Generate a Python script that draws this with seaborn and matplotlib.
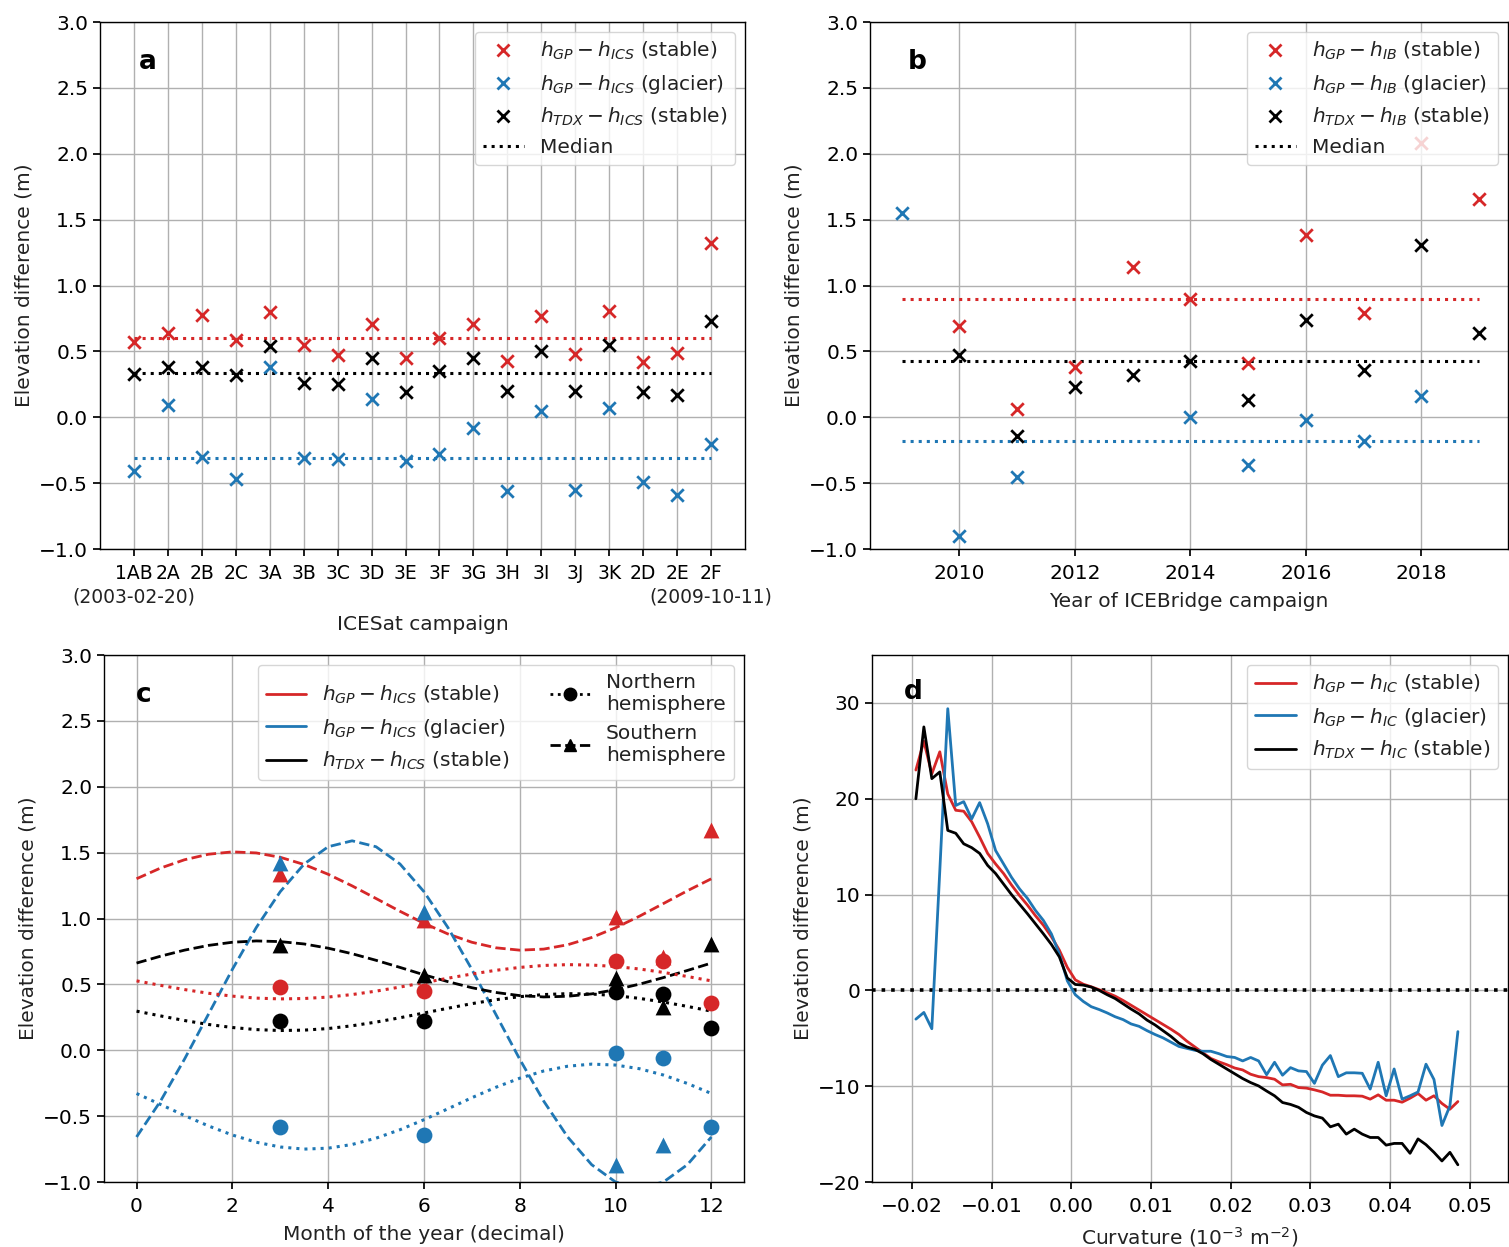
import numpy as np
import seaborn as sns
import matplotlib.pyplot as plt
from matplotlib.lines import Line2D

RED = "#d62728"
BLUE = "#1f77b4"
BLACK = "black"

# ---------- a: ICESat campaigns ----------
campaigns = ["1AB", "2A", "2B", "2C", "3A", "3B", "3C", "3D", "3E", "3F",
             "3G", "3H", "3I", "3J", "3K", "2D", "2E", "2F"]
campaign_dates = ["(2003-02-20)", "(2009-10-11)"]   # first and last campaign
a_gp_stable = [0.57, 0.64, 0.78, 0.59, 0.80, 0.55, 0.47, 0.71, 0.45, 0.60,
               0.71, 0.43, 0.77, 0.48, 0.81, 0.42, 0.49, 1.32]
a_gp_glacier = [-0.41, 0.09, -0.30, -0.47, 0.38, -0.31, -0.32, 0.14, -0.33, -0.28,
                -0.08, -0.56, 0.05, -0.55, 0.07, -0.49, -0.59, -0.20]
a_tdx_stable = [0.33, 0.38, 0.38, 0.32, 0.54, 0.26, 0.25, 0.45, 0.19, 0.35,
                0.45, 0.20, 0.50, 0.20, 0.55, 0.19, 0.17, 0.73]
a_medians = [0.60, -0.31, 0.34]

# ---------- b: ICEBridge years ----------
years = [2009, 2010, 2011, 2012, 2013, 2014, 2015, 2016, 2017, 2018, 2019]
b_gp_stable = [np.nan, 0.69, 0.06, 0.38, 1.14, 0.90, 0.41, 1.38, 0.79, 2.08, 1.66]
b_gp_glacier = [1.55, -0.90, -0.45, np.nan, np.nan, 0.00, -0.36, -0.02, -0.18, 0.16, np.nan]
b_tdx_stable = [np.nan, 0.47, -0.14, 0.23, 0.32, 0.43, 0.13, 0.74, 0.36, 1.31, 0.64]
b_medians = [0.90, -0.18, 0.43]

# ---------- c: month of year ----------
months_curve = np.arange(0, 12.5, 0.5)
c_north_gp_stable = [0.527, 0.493, 0.461, 0.433, 0.411, 0.396, 0.390, 0.393, 0.404,
                     0.423, 0.449, 0.480, 0.513, 0.547, 0.579, 0.607, 0.629, 0.644,
                     0.650, 0.647, 0.636, 0.617, 0.591, 0.560, 0.527]
c_north_gp_glacier = [-0.328, -0.411, -0.495, -0.574, -0.643, -0.698, -0.734, -0.750,
                      -0.743, -0.715, -0.667, -0.603, -0.527, -0.444, -0.360, -0.281,
                      -0.212, -0.157, -0.121, -0.105, -0.112, -0.140, -0.188, -0.252, -0.328]
c_north_tdx_stable = [0.297, 0.261, 0.226, 0.196, 0.173, 0.157, 0.150, 0.153, 0.165,
                      0.186, 0.214, 0.247, 0.283, 0.319, 0.354, 0.384, 0.407, 0.423,
                      0.430, 0.427, 0.415, 0.394, 0.366, 0.333, 0.297]
c_south_gp_stable = [1.302, 1.383, 1.446, 1.488, 1.506, 1.498, 1.465, 1.410, 1.336,
                     1.248, 1.152, 1.055, 0.964, 0.883, 0.820, 0.778, 0.760, 0.768,
                     0.801, 0.856, 0.930, 1.018, 1.114, 1.211, 1.302]
c_south_gp_glacier = [-0.658, -0.386, -0.068, 0.273, 0.614, 0.932, 1.204, 1.414, 1.545,
                      1.590, 1.545, 1.414, 1.204, 0.932, 0.614, 0.273, -0.068, -0.386,
                      -0.658, -0.868, -1.000, -1.044, -1.000, -0.868, -0.658]
c_south_tdx_stable = [0.662, 0.714, 0.760, 0.796, 0.820, 0.830, 0.825, 0.807, 0.775,
                      0.733, 0.683, 0.629, 0.573, 0.521, 0.475, 0.439, 0.415, 0.405,
                      0.410, 0.428, 0.460, 0.502, 0.552, 0.606, 0.662]

months_pts = [3, 6, 10, 11, 12]
n_gp_stable = [0.48, 0.45, 0.68, 0.68, 0.36]
n_gp_glacier = [-0.58, -0.64, -0.02, -0.06, -0.58]
n_tdx_stable = [0.22, 0.22, 0.44, 0.43, 0.17]
s_gp_stable = [1.34, 0.99, 1.01, 0.71, 1.67]
s_gp_glacier = [1.42, 1.05, -0.87, -0.72, np.nan]
s_tdx_stable = [0.80, 0.57, 0.55, 0.33, 0.81]

# ---------- d: curvature ----------
curvature = np.round(np.arange(-19.5, 49.0, 1.0) * 1e-3, 4)
d_gp_stable = [23.0, 26.0, 22.6, 24.9, 20.5, 18.8, 18.7, 17.6, 16.0, 14.3, 13.2, 12.2,
               11.0, 9.9, 8.9, 7.8, 6.8, 5.6, 4.2, 2.4, 1.1, 0.65, 0.38, 0.07, -0.25,
               -0.6, -1.05, -1.55, -2.05, -2.55, -3.05, -3.55, -4.05, -4.6, -5.3, -5.9,
               -6.5, -7.1, -7.45, -7.75, -8.1, -8.3, -8.75, -9.0, -9.1, -9.27, -9.86,
               -9.8, -10.14, -10.2, -10.38, -10.6, -10.94, -10.94, -11.0, -11.0, -11.04,
               -11.35, -10.9, -11.46, -11.46, -11.67, -11.25, -10.76, -11.46, -11.0,
               -11.8, -12.4, -11.6]
d_gp_glacier = [-3.0, -2.3, -4.0, 12.5, 29.4, 19.3, 19.7, 17.9, 19.6, 17.4, 14.6, 13.2,
                11.8, 10.6, 9.6, 8.35, 7.3, 5.9, 3.8, 1.0, -0.45, -1.15, -1.7, -2.0,
                -2.35, -2.75, -3.05, -3.5, -3.75, -4.2, -4.6, -4.95, -5.4, -5.85, -6.05,
                -6.25, -6.35, -6.35, -6.6, -6.9, -7.0, -7.36, -7.0, -7.36, -8.8, -7.5,
                -8.85, -8.06, -8.4, -8.47, -9.7, -7.8, -6.8, -9.0, -8.6, -8.6, -8.65,
                -10.3, -7.5, -11.0, -8.2, -11.35, -11.0, -10.6, -7.7, -9.3, -14.1,
                -12.05, -4.3]
d_tdx_stable = [20.0, 27.5, 22.1, 22.8, 16.7, 16.4, 15.3, 14.9, 14.3, 13.05, 12.2, 11.1,
                10.0, 9.0, 8.0, 6.95, 5.9, 4.8, 3.5, 1.3, 0.62, 0.55, 0.35, 0.0, -0.45,
                -0.85, -1.4, -1.95, -2.45, -3.1, -3.6, -4.2, -4.8, -5.5, -5.9, -6.15,
                -6.6, -7.2, -7.7, -8.2, -8.7, -9.2, -9.62, -9.97, -10.5, -11.0, -11.7,
                -11.9, -12.2, -12.74, -13.1, -13.33, -14.24, -13.96, -15.0, -14.48,
                -15.0, -15.35, -15.35, -16.15, -15.97, -15.97, -17.0, -15.5, -16.1,
                -16.9, -17.8, -16.9, -18.2]

# ---------- style ----------
sns.set_theme(style="ticks", rc={
    "axes.grid": True, "grid.color": "#b0b0b0", "grid.linewidth": 1.0,
    "axes.edgecolor": "black", "axes.linewidth": 1.0,
    "xtick.color": "black", "ytick.color": "black",
    "xtick.major.size": 5, "ytick.major.size": 5,
    "xtick.major.pad": 5.5,
})
plt.rcParams["font.family"] = ["DejaVu Sans"]
plt.rcParams["font.size"] = 14.5
plt.rcParams["axes.labelsize"] = 14.5
plt.rcParams["xtick.labelsize"] = 14.5
plt.rcParams["ytick.labelsize"] = 14.5
plt.rcParams["legend.fontsize"] = 14.5
plt.rcParams["text.color"] = "#222222"
plt.rcParams["axes.labelcolor"] = "#222222"

fig = plt.figure(figsize=(15.09, 12.47), dpi=100)
ax_a = fig.add_axes([0.0663, 0.5597, 0.4274, 0.4226])
ax_b = fig.add_axes([0.5765, 0.5597, 0.4228, 0.4226])
ax_c = fig.add_axes([0.0689, 0.0521, 0.4241, 0.4226])
ax_d = fig.add_axes([0.5779, 0.0521, 0.4215, 0.4226])

MS = 9
XPAD = 7


def x_handle(color):
    return Line2D([], [], marker="x", color=color, ls="none", ms=MS, mew=2)


def panel_label(ax, s, x=0.06, y=0.925):
    ax.text(x, y, s, transform=ax.transAxes, fontsize=19, fontweight="bold",
            ha="left", va="center", color="black")


# ---------- panel a ----------
pos = np.arange(len(campaigns))
for vals, col in [(a_gp_stable, RED), (a_gp_glacier, BLUE), (a_tdx_stable, BLACK)]:
    sns.scatterplot(x=pos, y=vals, ax=ax_a, marker="x", color=col, s=MS ** 2,
                    linewidth=2, zorder=3)
for med, col in zip(a_medians, [RED, BLUE, BLACK]):
    ax_a.plot([pos[0], pos[-1]], [med, med], ls=":", color=col, lw=2.2, zorder=2)
ax_a.set_xticks(pos)
ax_a.set_xticklabels(campaigns, fontsize=13.5)
for xp, date in zip([pos[0], pos[-1]], campaign_dates):
    ax_a.annotate(date, xy=(xp, 0), xycoords=("data", "axes fraction"),
                  xytext=(0, -34.5), textcoords="offset points",
                  ha="center", va="center", fontsize=13.5, color="#222222",
                  annotation_clip=False)
ax_a.set_xlim(-1, len(campaigns))
ax_a.set_ylim(-1, 3)
ax_a.set_yticks(np.arange(-1, 3.01, 0.5))
ax_a.set_xlabel("ICESat campaign")
ax_a.xaxis.set_label_coords(0.5, -0.125)
ax_a.set_ylabel("Elevation difference (m)")
ax_a.legend([x_handle(RED), x_handle(BLUE), x_handle(BLACK),
             Line2D([], [], ls=":", color=BLACK, lw=2.2)],
            [r"$h_{GP} - h_{ICS}$ (stable)", r"$h_{GP} - h_{ICS}$ (glacier)",
             r"$h_{TDX} - h_{ICS}$ (stable)", "Median"],
            loc="upper right", numpoints=1)
panel_label(ax_a, "a")

# ---------- panel b ----------
for vals, col in [(b_gp_stable, RED), (b_gp_glacier, BLUE), (b_tdx_stable, BLACK)]:
    sns.scatterplot(x=years, y=vals, ax=ax_b, marker="x", color=col, s=MS ** 2,
                    linewidth=2, zorder=3)
for med, col in zip(b_medians, [RED, BLUE, BLACK]):
    ax_b.plot([years[0], years[-1]], [med, med], ls=":", color=col, lw=2.2, zorder=2)
ax_b.set_xlim(2008.45, 2019.5)
ax_b.set_xticks([2010, 2012, 2014, 2016, 2018])
ax_b.set_ylim(-1, 3)
ax_b.set_yticks(np.arange(-1, 3.01, 0.5))
ax_b.set_xlabel("Year of ICEBridge campaign", labelpad=XPAD)
ax_b.set_ylabel("Elevation difference (m)")
ax_b.legend([x_handle(RED), x_handle(BLUE), x_handle(BLACK),
             Line2D([], [], ls=":", color=BLACK, lw=2.2)],
            [r"$h_{GP} - h_{IB}$ (stable)", r"$h_{GP} - h_{IB}$ (glacier)",
             r"$h_{TDX} - h_{IB}$ (stable)", "Median"],
            loc="upper right", numpoints=1)
panel_label(ax_b, "b")

# ---------- panel c ----------
for vals, col in [(c_south_gp_stable, RED), (c_south_gp_glacier, BLUE),
                  (c_south_tdx_stable, BLACK)]:
    sns.lineplot(x=months_curve, y=vals, ax=ax_c, color=col, linestyle="--", lw=2)
for vals, col in [(c_north_gp_stable, RED), (c_north_gp_glacier, BLUE),
                  (c_north_tdx_stable, BLACK)]:
    sns.lineplot(x=months_curve, y=vals, ax=ax_c, color=col, linestyle=":", lw=2.2)
for nv, sv, col in [(n_gp_stable, s_gp_stable, RED), (n_gp_glacier, s_gp_glacier, BLUE),
                    (n_tdx_stable, s_tdx_stable, BLACK)]:
    sns.scatterplot(x=months_pts, y=nv, ax=ax_c, marker="o", color=col, s=130,
                    linewidth=0, zorder=4)
    sns.scatterplot(x=months_pts, y=sv, ax=ax_c, marker="^", color=col, s=130,
                    linewidth=0, zorder=4)
ax_c.set_xlim(-0.68, 12.68)
ax_c.set_xticks(np.arange(0, 13, 2))
ax_c.set_ylim(-1, 3)
ax_c.set_yticks(np.arange(-1, 3.01, 0.5))
ax_c.set_xlabel("Month of the year (decimal)", labelpad=XPAD)
ax_c.set_ylabel("Elevation difference (m)")
ax_c.legend([Line2D([], [], color=RED, lw=2), Line2D([], [], color=BLUE, lw=2),
             Line2D([], [], color=BLACK, lw=2),
             Line2D([], [], color=BLACK, ls=":", lw=2, marker="o", ms=9),
             Line2D([], [], color=BLACK, ls="--", lw=2, marker="^", ms=9)],
            [r"$h_{GP} - h_{ICS}$ (stable)", r"$h_{GP} - h_{ICS}$ (glacier)",
             r"$h_{TDX} - h_{ICS}$ (stable)", "Northern\nhemisphere",
             "Southern\nhemisphere"],
            loc="upper right", ncol=2, numpoints=1, columnspacing=2.0)
panel_label(ax_c, "c", x=0.05)

# ---------- panel d ----------
ax_d.axhline(0, color=BLACK, ls=":", lw=2.6, zorder=1)
for vals, col in [(d_gp_stable, RED), (d_gp_glacier, BLUE), (d_tdx_stable, BLACK)]:
    sns.lineplot(x=curvature, y=vals, ax=ax_d, color=col, lw=2)
d_ticks = np.arange(-0.02, 0.0501, 0.01)
ax_d.set_xlim(-0.025, 0.0548)
ax_d.set_xticks(d_ticks)
ax_d.set_xticklabels([f"{v:.2f}".replace("-", "\u2212") for v in d_ticks])
ax_d.set_ylim(-20, 35)
ax_d.set_yticks([-20, -10, 0, 10, 20, 30])
ax_d.set_xlabel(r"Curvature ($10^{-3}$ m$^{-2}$)", labelpad=XPAD)
ax_d.set_ylabel("Elevation difference (m)")
ax_d.legend([Line2D([], [], color=RED, lw=2), Line2D([], [], color=BLUE, lw=2),
             Line2D([], [], color=BLACK, lw=2)],
            [r"$h_{GP} - h_{IC}$ (stable)", r"$h_{GP} - h_{IC}$ (glacier)",
             r"$h_{TDX} - h_{IC}$ (stable)"],
            loc="upper right")
panel_label(ax_d, "d", x=0.05, y=0.93)

fig.savefig("out.png", dpi=100)
